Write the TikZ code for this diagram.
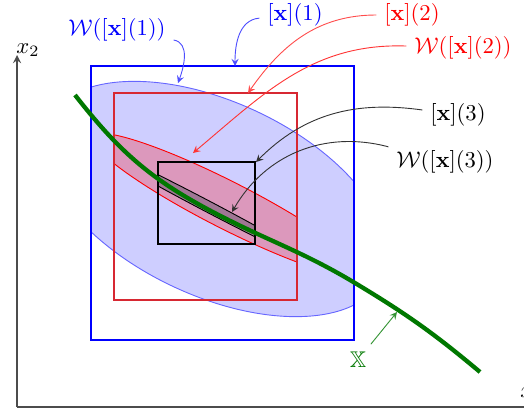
\documentclass[tikz,border=0pt]{standalone}
\usepackage{amsmath,amssymb}
\definecolor{boxred}{RGB}{215,40,50}
\definecolor{ovalblue}{RGB}{206,206,255}
\definecolor{ovalpink}{RGB}{220,152,188}
\definecolor{ovalgray}{RGB}{160,118,148}
\definecolor{curvegreen}{RGB}{0,120,0}
\begin{document}
\begin{tikzpicture}[x=0.0155cm,y=-0.0155cm,>=stealth]
        \useasboundingbox (0,0) rectangle (524,418);
        % axes
        \coordinate (orig) at (17,407);
        \coordinate (ytip) at (17,55);
        \coordinate (xtip) at (560,407);
        \draw[->,black!70,semithick] (orig) -- (ytip);
        \draw[->,black!70,semithick] (orig) -- (xtip);
        \node (lx2axis) at (28,50) {$x_2$};
        \node (lx1axis) at (532,394) {$x_1$};
        % boxes and their images
        \begin{scope}
            \clip (91,66) rectangle (354,340);
            \filldraw[fill=ovalblue,draw=blue!60,rotate around={-25:(215,199)}] (215,199) ellipse (185 and 97);
        \end{scope}
        \draw[blue,thick] (91,66) rectangle (354,340);
        \begin{scope}
            \clip (114,93) rectangle (297,300);
            \filldraw[fill=ovalpink,draw=red,rotate around={-27:(227,205)}] (227,205) ellipse (151 and 23.5);
        \end{scope}
        \draw[boxred,thick] (114,93) rectangle (297,300);
        \begin{scope}
            \clip (158,162) rectangle (255,244);
            \filldraw[fill=ovalgray,draw=black,rotate around={-27.7:(206,205.5)}] (206,205.5) ellipse (130 and 5.5);
        \end{scope}
        \draw[black,thick] (158,162) rectangle (255,244);
        % the curve X
        \draw[curvegreen,line width=1.9pt] (75,95) to[out=-52,in=152] (210,210.5)
            to[out=-28,in=149] (355,283) to[out=-31,in=140] (480,372);
        % labels
        \node[text=blue] (lw1) at (117,30) {$\mathcal{W}([\mathbf{x}](1))$};
        \node[text=blue] (lx1) at (295,15) {$[\mathbf{x}](1)$};
        \node[text=red] (lx2) at (412,15) {$[\mathbf{x}](2)$};
        \node[text=red] (lw2) at (463,48) {$\mathcal{W}([\mathbf{x}](2))$};
        \node (lx3) at (458,115) {$[\mathbf{x}](3)$};
        \node (lw3) at (445,162) {$\mathcal{W}([\mathbf{x}](3))$};
        \node[text=curvegreen] (lX) at (358,360) {$\mathbb{X}$};
        \coordinate (tw1) at (178,83);
        \coordinate (tx1) at (235,66);
        \coordinate (tx2) at (248,93);
        \coordinate (tw2) at (193,153);
        \coordinate (tx3) at (256,162);
        \coordinate (tw3) at (232,212);
        \coordinate (tX) at (397,312);
        \draw[->,blue!70,thin] (lw1) to[out=-10,in=70] (tw1);
        \draw[->,blue!70,thin] (lx1) to[out=185,in=90] (tx1);
        \draw[->,red!70,thin] (lx2) to[out=180,in=55] (tx2);
        \draw[->,red!80,thin] (lw2) to[out=178,in=40] (tw2);
        \draw[->,black!80,thin] (lx3) to[out=172,in=45] (tx3);
        \draw[->,black!80,thin] (lw3) to[out=165,in=60] (tw3);
        \draw[->,curvegreen!80,thin] (lX) -- (tX);
\end{tikzpicture}
\end{document}
